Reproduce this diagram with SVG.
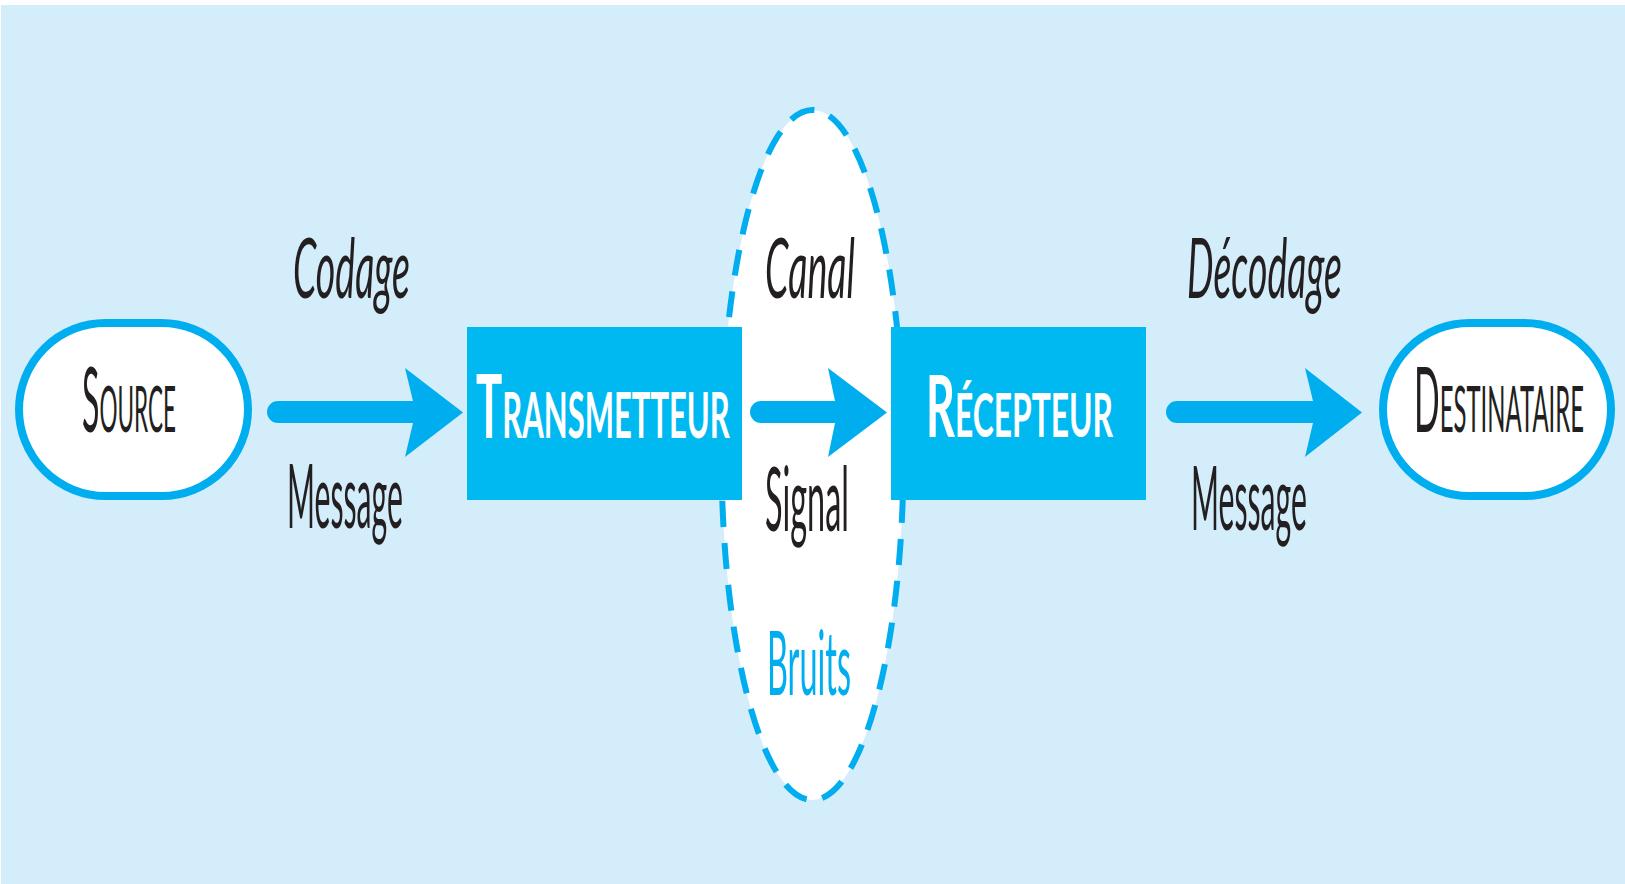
<svg xmlns="http://www.w3.org/2000/svg" width="1625" height="884" viewBox="0 0 1625 884">
<style>
.lbl{font-family:Lato,"Open Sans","Liberation Sans",sans-serif;fill:#231f20}
.top{font-size:83px;font-style:italic}
.bot{font-size:89px}
.pill{fill:#ffffff;stroke:#00aeef;stroke-width:8}
.box{fill:#00b9f1}
.arrow{fill:#00aeef}
.cap{font-family:Lato,"Open Sans","Liberation Sans",sans-serif;font-variant:small-caps}
.w{fill:#ffffff;font-weight:bold}
.k{fill:#231f20}
</style>
<rect x="0" y="0" width="1625" height="884" fill="#ffffff"/>
<rect x="1" y="5" width="1624" height="879" fill="#d3edfb"/>

<g id="node-canal">
  <ellipse cx="812.5" cy="455" rx="91" ry="345" fill="#ffffff" stroke="#00aeef" stroke-width="6" stroke-dasharray="26 16"/>
  <text class="lbl top" x="765" y="298" textLength="90" lengthAdjust="spacingAndGlyphs">Canal</text>
  <text class="lbl bot" x="765" y="531" textLength="84" lengthAdjust="spacingAndGlyphs">Signal</text>
  <text class="lbl bot" x="767" y="695" textLength="84" lengthAdjust="spacingAndGlyphs" style="fill:#00aeef">Bruits</text>
</g>

<g id="node-source">
  <rect class="pill" x="19" y="323" width="229" height="173" rx="86.5" ry="86.5"/>
  <text class="cap k" transform="translate(82,432) scale(0.36,1)" x="0" y="0" font-size="91" textLength="261" lengthAdjust="spacingAndGlyphs">Source</text>
</g>

<g id="node-transmetteur">
  <rect class="box" x="467" y="327" width="275" height="173"/>
  <text class="cap w" transform="translate(476,438) scale(0.49,1)" x="0" y="0" font-size="88" textLength="518" lengthAdjust="spacingAndGlyphs">Transmetteur</text>
</g>

<g id="node-recepteur">
  <rect class="box" x="891" y="327" width="255" height="173"/>
  <text class="cap w" transform="translate(926,437) scale(0.47,1)" x="0" y="0" font-size="87" textLength="398" lengthAdjust="spacingAndGlyphs">Récepteur</text>
</g>

<g id="node-destinataire">
  <rect class="pill" x="1383" y="323" width="228" height="173" rx="86.5" ry="86.5"/>
  <text class="cap k" transform="translate(1414,432) scale(0.34,1)" x="0" y="0" font-size="91" textLength="500" lengthAdjust="spacingAndGlyphs">Destinataire</text>
</g>

<g id="connectors">
  <path class="arrow" d="M278,401 L413,401 L405,368 L463,412.5 L405,457 L413,423 L278,423 A11,11 0 0 1 278,401 Z"/>
  <path class="arrow" d="M761,401 L835,401 L828,368 L887,412.5 L828,457 L835,423 L761,423 A11,11 0 0 1 761,401 Z"/>
  <path class="arrow" d="M1177,401 L1313,401 L1305,368 L1362,412.5 L1305,457 L1313,423 L1177,423 A11,11 0 0 1 1177,401 Z"/>
  <text class="lbl top" x="293" y="298" textLength="117" lengthAdjust="spacingAndGlyphs">Codage</text>
  <text class="lbl bot" x="287" y="528" textLength="116" lengthAdjust="spacingAndGlyphs">Message</text>
  <text class="lbl top" x="1187" y="298" textLength="155" lengthAdjust="spacingAndGlyphs">Décodage</text>
  <text class="lbl bot" x="1191" y="530" textLength="116" lengthAdjust="spacingAndGlyphs">Message</text>
</g>
</svg>
